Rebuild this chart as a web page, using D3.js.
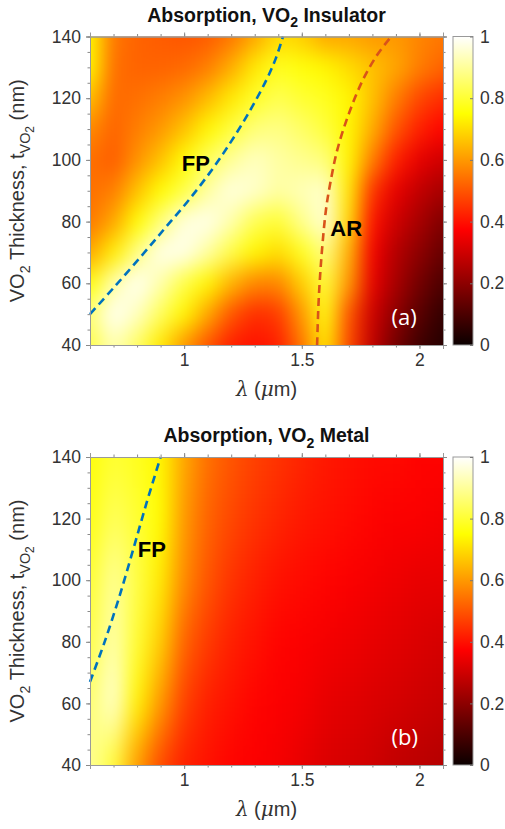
<!DOCTYPE html>
<html>
<head>
<meta charset="utf-8">
<script src="https://cdn.jsdelivr.net/npm/d3@7/dist/d3.min.js"></script>
<style>
  body { margin: 0; background: #fff; }
  svg { display: block; font-family: "Liberation Sans", Arial, sans-serif; }
</style>
</head>
<body>
<svg id="fig" width="505" height="829"></svg>
<script>
// ---- data ----
const lambdaVals = [0.6, 0.7, 0.8, 0.9, 1.0, 1.1, 1.2, 1.3, 1.4, 1.5, 1.6, 1.7, 1.8, 1.9, 2.0, 2.1];

// (a) insulator, rows from 140 nm down to 40 nm
const thickInsulator = [140, 130, 120, 110, 100, 90, 80, 70, 60, 50, 40];
const absInsulator = [
  [0.74, 0.55, 0.52, 0.51, 0.50, 0.51, 0.55, 0.62, 0.70, 0.68, 0.62, 0.62, 0.60, 0.60, 0.57, 0.55],
  [0.74, 0.54, 0.52, 0.52, 0.53, 0.56, 0.63, 0.72, 0.78, 0.76, 0.74, 0.70, 0.66, 0.62, 0.56, 0.52],
  [0.66, 0.53, 0.54, 0.56, 0.59, 0.65, 0.72, 0.79, 0.83, 0.80, 0.78, 0.74, 0.66, 0.56, 0.48, 0.44],
  [0.58, 0.52, 0.56, 0.60, 0.66, 0.74, 0.81, 0.87, 0.88, 0.85, 0.81, 0.74, 0.63, 0.50, 0.42, 0.38],
  [0.54, 0.51, 0.59, 0.66, 0.75, 0.84, 0.90, 0.94, 0.91, 0.89, 0.87, 0.74, 0.56, 0.42, 0.34, 0.30],
  [0.54, 0.56, 0.66, 0.75, 0.82, 0.91, 0.97, 0.95, 0.91, 0.93, 0.95, 0.72, 0.45, 0.34, 0.28, 0.24],
  [0.55, 0.62, 0.75, 0.87, 0.97, 0.98, 0.92, 0.83, 0.80, 0.89, 0.96, 0.70, 0.40, 0.30, 0.24, 0.18],
  [0.62, 0.73, 0.88, 0.98, 0.98, 0.91, 0.82, 0.74, 0.70, 0.78, 0.88, 0.64, 0.36, 0.26, 0.20, 0.14],
  [0.76, 0.92, 0.99, 0.92, 0.82, 0.74, 0.64, 0.57, 0.57, 0.68, 0.81, 0.60, 0.34, 0.24, 0.16, 0.10],
  [0.87, 0.99, 0.94, 0.84, 0.74, 0.62, 0.50, 0.44, 0.46, 0.60, 0.77, 0.50, 0.30, 0.20, 0.12, 0.06],
  [0.82, 0.93, 0.85, 0.72, 0.60, 0.50, 0.42, 0.40, 0.42, 0.55, 0.72, 0.48, 0.28, 0.16, 0.08, 0.04]
];

// (b) metal, rows from 140 nm down to 40 nm
const thickMetal = [140, 120, 100, 80, 60, 40];
const absMetal = [
  [0.76, 0.80, 0.78, 0.74, 0.62, 0.54, 0.50, 0.47, 0.45, 0.43, 0.41, 0.40, 0.39, 0.39, 0.38, 0.38],
  [0.77, 0.84, 0.80, 0.75, 0.60, 0.52, 0.48, 0.45, 0.43, 0.41, 0.40, 0.39, 0.38, 0.37, 0.37, 0.36],
  [0.80, 0.90, 0.82, 0.72, 0.58, 0.50, 0.45, 0.42, 0.40, 0.39, 0.38, 0.37, 0.36, 0.35, 0.34, 0.34],
  [0.82, 0.92, 0.80, 0.68, 0.52, 0.46, 0.42, 0.40, 0.38, 0.37, 0.36, 0.35, 0.34, 0.33, 0.32, 0.31],
  [0.86, 0.96, 0.74, 0.60, 0.47, 0.42, 0.40, 0.38, 0.37, 0.36, 0.34, 0.33, 0.32, 0.31, 0.30, 0.29],
  [0.90, 0.80, 0.60, 0.48, 0.42, 0.40, 0.38, 0.37, 0.36, 0.34, 0.32, 0.31, 0.30, 0.28, 0.27, 0.26]
];

// dashed mode lines [lambda, thickness]
const fpInsulator = [[0.6, 50], [0.7, 58.5], [0.82, 69], [0.92, 78], [1.02, 87], [1.12, 97],
  [1.2, 106], [1.28, 116], [1.35, 126], [1.39, 133], [1.42, 140]];
const arInsulator = [[1.565, 40], [1.572, 55], [1.585, 70], [1.603, 84], [1.62, 92], [1.65, 103],
  [1.70, 115], [1.76, 126], [1.82, 134], [1.88, 140]];
const fpMetal = [[0.6, 67], [0.66, 79.5], [0.72, 93.5], [0.78, 109], [0.84, 125], [0.9, 140]];

const xTicks = [1, 1.5, 2];
const yTicks = [40, 60, 80, 100, 120, 140];
const cbTicks = [0, 0.2, 0.4, 0.6, 0.8, 1];

// ---- layout ----
const svg = d3.select("#fig");
const defs = svg.append("defs");
const left = 90, right = 443;
const cbX = 453, cbW = 20;

// MATLAB "hot" colormap
const hot = d3.scaleLinear()
  .domain([0, 0.375, 0.75, 1])
  .range(["#0b0000", "#ff0000", "#ffff00", "#ffffff"])
  .clamp(true);

const grad = defs.append("linearGradient").attr("id", "hotGrad")
  .attr("x1", 0).attr("y1", 1).attr("x2", 0).attr("y2", 0);
d3.range(0, 1.0001, 0.125).forEach(v => {
  grad.append("stop").attr("offset", v).attr("stop-color", hot(v));
});

function subText(sel, parts, size) {
  // parts: [text, level] ; level 0 normal, 1 subscript, 2 sub-subscript
  let level = 0;
  const shift = { 0: 0, 1: size * 0.3, 2: size * 0.5 };
  parts.forEach(([t, l]) => {
    const ts = sel.append("tspan").text(t);
    ts.attr("dy", shift[l] - shift[level]);
    if (l > 0) ts.attr("font-size", l === 1 ? size * 0.72 : size * 0.6);
    level = l;
  });
}

function drawPanel(cfg) {
  const x = d3.scaleLinear().domain([0.6, 2.1]).range([left, right]);
  const y = d3.scaleLinear().domain([40, 140]).range([cfg.bottom, cfg.top]);
  const g = svg.append("g");

  // clip + blur so the coarse grid reads as a smooth map
  defs.append("clipPath").attr("id", "clip" + cfg.id)
    .append("rect").attr("x", left).attr("y", cfg.top)
    .attr("width", right - left).attr("height", cfg.bottom - cfg.top);
  defs.append("filter").attr("id", "blur" + cfg.id)
    .attr("filterUnits", "userSpaceOnUse")
    .attr("color-interpolation-filters", "sRGB")
    .attr("x", 0).attr("y", cfg.top - 120).attr("width", 505).attr("height", cfg.bottom - cfg.top + 240)
    .append("feGaussianBlur").attr("stdDeviation", cfg.blur);

  const cells = [];
  cfg.thick.forEach((t, j) => {
    lambdaVals.forEach((l, i) => {
      cells.push({ l, t, v: cfg.values[j][i], i, j });
    });
  });
  const dl = 0.05, dt = cfg.dt / 2, ext = 70;
  const nI = lambdaVals.length, nJ = cfg.thick.length;
  g.append("g").attr("clip-path", `url(#clip${cfg.id})`)
    .append("g").attr("filter", `url(#blur${cfg.id})`)
    .selectAll("rect").data(cells).enter().append("rect")
    .attr("x", d => x(d.l - dl) - (d.i === 0 ? ext : 0))
    .attr("y", d => y(d.t + dt) - (d.j === 0 ? ext : 0))
    .attr("width", d => x(d.l + dl) - x(d.l - dl) + 0.6 + (d.i === 0 || d.i === nI - 1 ? ext : 0))
    .attr("height", d => y(d.t - dt) - y(d.t + dt) + 0.6 + (d.j === 0 || d.j === nJ - 1 ? ext : 0))
    .attr("fill", d => hot(d.v));

  // dashed lines
  const line = d3.line().curve(d3.curveCatmullRom).x(d => x(d[0])).y(d => y(d[1]));
  cfg.lines.forEach(ln => {
    g.append("path").datum(ln.pts).attr("d", line)
      .attr("fill", "none").attr("stroke", ln.color).attr("stroke-width", 2.6)
      .attr("stroke-dasharray", "8,5");
  });

  // labels inside the map
  cfg.labels.forEach(lb => {
    g.append("text").attr("x", x(lb.l)).attr("y", y(lb.t)).text(lb.text)
      .attr("font-size", lb.size).attr("font-weight", lb.bold ? "bold" : "normal")
      .attr("fill", lb.color)
      .attr("font-family", lb.font || null);
  });

  // axes: outward ticks on all four sides
  const minorX = d3.range(0.6, 2.101, 0.1).map(v => +v.toFixed(2));
  const minorY = d3.range(40, 140.1, 5);
  const axisStyle = a => {
    a.select(".domain").attr("stroke", "#9a9a9a");
    a.selectAll(".tick line").attr("stroke", "#8a8a8a");
    a.selectAll(".tick text").attr("fill", "#333").attr("font-size", 17.5)
      .attr("font-family", "'Liberation Sans', Arial, sans-serif");
  };
  const mk = (axisFn, scale, vals, size, labels, tr) => {
    const ax = axisFn(scale).tickValues(vals).tickSizeOuter(0).tickSize(size).tickPadding(5);
    if (!labels) ax.tickFormat("");
    else ax.tickFormat(d3.format("~g"));
    const a = g.append("g").attr("transform", tr).call(ax);
    axisStyle(a);
    return a;
  };
  mk(d3.axisBottom, x, minorX, 2.5, false, `translate(0,${cfg.bottom})`);
  mk(d3.axisBottom, x, xTicks, 4, true, `translate(0,${cfg.bottom})`);
  mk(d3.axisTop, x, minorX, 2.5, false, `translate(0,${cfg.top})`);
  mk(d3.axisTop, x, xTicks, 4, false, `translate(0,${cfg.top})`);
  mk(d3.axisLeft, y, minorY, 2.5, false, `translate(${left},0)`);
  mk(d3.axisLeft, y, yTicks, 4, true, `translate(${left},0)`);
  mk(d3.axisRight, y, minorY, 2.5, false, `translate(${right},0)`);
  mk(d3.axisRight, y, yTicks, 4, false, `translate(${right},0)`);

  // title
  const title = g.append("text").attr("x", (left + right) / 2).attr("y", cfg.top - 15)
    .attr("text-anchor", "middle").attr("font-weight", "bold").attr("font-size", 19.5).attr("fill", "#111");
  subText(title, [["Absorption, VO", 0], ["2", 1], [" " + cfg.title, 0]], 19.5);

  // x label
  const xl = g.append("text").attr("x", (left + right) / 2).attr("y", cfg.bottom + 51)
    .attr("text-anchor", "middle").attr("font-size", 20).attr("fill", "#333");
  xl.append("tspan").attr("font-family", "'DejaVu Serif', serif").attr("font-style", "italic").text("λ");
  xl.append("tspan").text(" (");
  xl.append("tspan").attr("font-family", "'DejaVu Serif', serif").attr("font-style", "italic").text("μ");
  xl.append("tspan").text("m)");

  // y label
  const yl = g.append("text")
    .attr("transform", `translate(24,${(cfg.top + cfg.bottom) / 2}) rotate(-90)`)
    .attr("text-anchor", "middle").attr("font-size", 20).attr("fill", "#333");
  subText(yl, [["VO", 0], ["2", 1], [" Thickness, t", 0], ["VO", 1], ["2", 2], [" (nm)", 0]], 20);

  // colorbar
  const cb = d3.scaleLinear().domain([0, 1]).range([cfg.bottom, cfg.top]);
  g.append("rect").attr("x", cbX).attr("y", cfg.top).attr("width", cbW)
    .attr("height", cfg.bottom - cfg.top).attr("fill", "url(#hotGrad)")
    .attr("stroke", "#999").attr("stroke-width", 1);
  const cba = g.append("g").attr("transform", `translate(${cbX + cbW},0)`)
    .call(d3.axisRight(cb).tickValues(cbTicks).tickSize(0).tickPadding(7).tickFormat(d3.format("~g")));
  cba.select(".domain").remove();
  cba.selectAll(".tick text").attr("fill", "#333").attr("font-size", 17.5)
    .attr("font-family", "'Liberation Sans', Arial, sans-serif");
  cba.selectAll(".tick").append("line").attr("x1", -3).attr("x2", 0).attr("stroke", "#777");
}

drawPanel({
  id: "A", top: 36.5, bottom: 345, thick: thickInsulator, values: absInsulator, dt: 10,
  blur: "10 12.5", title: "Insulator",
  lines: [{ pts: fpInsulator, color: "#0072BD" }, { pts: arInsulator, color: "#D95319" }],
  labels: [
    { text: "FP", l: 0.99, t: 96.5, size: 22, bold: true, color: "#000" },
    { text: "AR", l: 1.621, t: 75.3, size: 22, bold: true, color: "#000" },
    { text: "(a)", l: 1.881, t: 46.5, size: 22, color: "#fff", font: "'Open Sans', sans-serif" }
  ]
});
drawPanel({
  id: "B", top: 457, bottom: 765, thick: thickMetal, values: absMetal, dt: 20,
  blur: "10 25", title: "Metal",
  lines: [{ pts: fpMetal, color: "#0072BD" }],
  labels: [
    { text: "FP", l: 0.803, t: 107.5, size: 22, bold: true, color: "#000" },
    { text: "(b)", l: 1.881, t: 46.5, size: 22, color: "#fff", font: "'Open Sans', sans-serif" }
  ]
});
</script>
</body>
</html>
